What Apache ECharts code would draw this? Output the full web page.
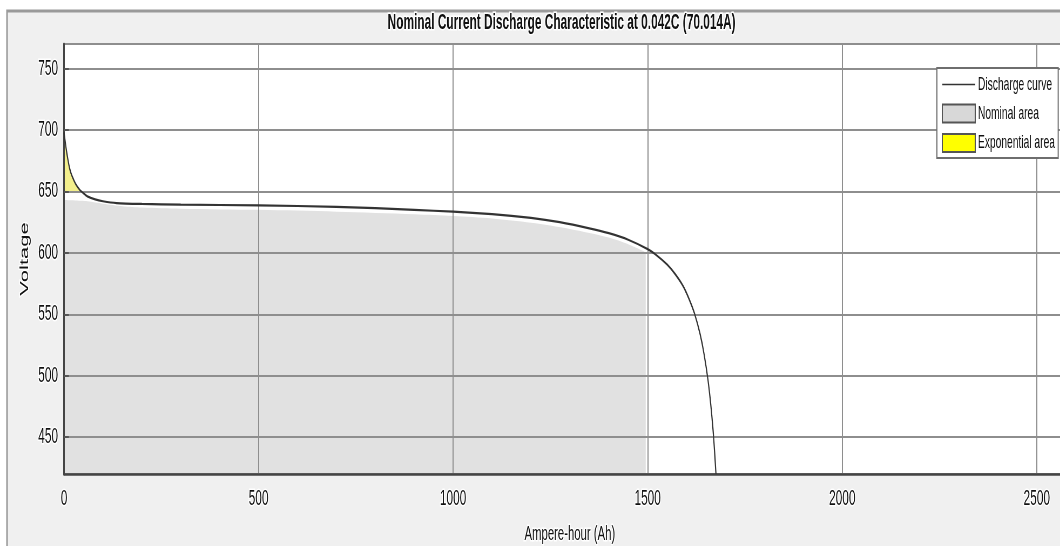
<!DOCTYPE html>
<html>
<head>
<meta charset="utf-8">
<title>Nominal Current Discharge Characteristic</title>
<script src="https://cdn.jsdelivr.net/npm/echarts@6/dist/echarts.min.js"></script>
<style>
  html, body { margin: 0; padding: 0; background: #fff; overflow: hidden; }
  #frame { width: 1060px; height: 546px; overflow: hidden; position: relative; }
  /* The figure is laid out wide and compressed horizontally, giving its tall, narrow lettering */
  #chart { width: 1963px; height: 546px; transform: scaleX(0.54); transform-origin: 0 0; }
</style>
</head>
<body>
<div id="frame"><div id="chart"></div></div>
<script>
// Discharge curve: capacity drawn (Ah) and terminal voltage (V)
const curveAh = [0, 5, 10, 15, 20, 30, 40, 50, 60, 80, 100, 135, 200, 300, 500, 700, 900, 1000, 1100, 1200, 1274, 1350, 1400, 1450, 1500, 1525, 1550, 1570, 1590, 1605, 1620, 1635, 1645, 1655, 1662, 1668, 1672, 1675.5];
const curveV  = [698, 686, 676, 668, 663, 656, 651.5, 648.5, 646, 643.5, 642, 640.5, 639.8, 639.3, 638.6, 637.5, 635, 633.5, 631.5, 628.5, 625, 620, 616, 610.7, 603, 597.5, 590.5, 583, 573.5, 563.5, 551, 533.5, 517.5, 496.5, 477, 456, 438, 420];

// Nominal operating zone (upper boundary, ends at the nominal capacity)
const nominalAh = [0, 60, 100, 150, 200, 300, 500, 700, 900, 1000, 1100, 1200, 1300, 1400, 1450, 1495];
const nominalV  = [643, 642, 640, 638, 637, 636, 635, 633.5, 631.5, 630, 628, 624.5, 619.5, 612.5, 607, 600.5];

// Exponential zone (above the 650 V line at the start of discharge)
const expAh = [0, 5, 10, 15, 20, 30, 40, 44];
const expV  = [698, 686, 676, 668, 663, 656, 651.5, 650];
const expBase = 650;

// Axis ranges
const xMin = 0, xMax = 2600, xStep = 500;
const yMin = 420, yMax = 770;

const titleText = 'Nominal Current Discharge Characteristic at 0.042C (70.014A)';
const xName = 'Ampere-hour (Ah)';
const yName = 'Voltage';

const pairs = (xs, ys) => xs.map((x, i) => [x, ys[i]]);

const sans = "'Liberation Sans', Arial, sans-serif";
const halo = { textBorderColor: '#ffffff', textBorderWidth: 3 };

const chart = echarts.init(document.getElementById('chart'), null, { renderer: 'canvas', width: 1963, height: 546 });

chart.setOption({
  backgroundColor: '#ffffff',
  animation: false,
  graphic: [{
    type: 'rect',
    z: -100,
    shape: { x: 13, y: 11, width: 2100, height: 600 },
    style: { fill: '#f0f0f0', stroke: '#9a9a9a', lineWidth: 3 }
  }],
  title: {
    text: titleText,
    left: 1035,
    textAlign: 'center',
    top: 7,
    textStyle: Object.assign({ fontFamily: sans, fontWeight: 'bold', fontSize: 22, color: '#111' }, halo)
  },
  legend: {
    orient: 'vertical',
    left: 1735,
    top: 68,
    z: 10,
    backgroundColor: '#ffffff',
    borderColor: '#6e6e6e',
    borderWidth: 2,
    padding: [7, 6, 5, 9],
    itemGap: 9.5,
    itemWidth: 61,
    itemHeight: 18,
    textStyle: { fontFamily: sans, fontSize: 19, color: '#111' },
    data: [
      { name: 'Discharge curve', icon: 'path://M0,0H110V3H0Z', itemStyle: { color: '#333' } },
      { name: 'Nominal area', icon: 'rect', itemStyle: { color: '#d8d8d8', borderColor: '#555', borderWidth: 2 } },
      { name: 'Exponential area', icon: 'rect', itemStyle: { color: '#ffff00', borderColor: '#555', borderWidth: 2 } }
    ]
  },
  grid: {
    left: 118.5, top: 44, bottom: 72, right: -29,
    outerBoundsMode: 'none',
    containLabel: false,
    show: true, backgroundColor: '#ffffff', borderColor: '#5a5a5a', borderWidth: 2
  },
  xAxis: {
    type: 'value',
    z: 3,
    min: xMin, max: xMax, interval: xStep,
    name: xName,
    nameLocation: 'middle',
    nameGap: 50,
    nameTextStyle: Object.assign({ fontFamily: sans, fontSize: 21, color: '#111' }, halo),
    axisLine: { show: true, lineStyle: { color: '#444', width: 2.5 } },
    axisTick: { show: false },
    axisLabel: Object.assign({ fontFamily: sans, fontSize: 22, color: '#111', margin: 14, showMaxLabel: false, formatter: v => String(v) }, halo),
    splitLine: { show: true, lineStyle: { color: '#8e8e8e', width: 2 } }
  },
  yAxis: {
    type: 'value',
    z: 3,
    min: yMin, max: yMax, splitNumber: 7,
    name: yName,
    nameLocation: 'middle',
    nameGap: 42,
    nameTextStyle: Object.assign({ fontFamily: sans, fontSize: 22, color: '#111' }, halo),
    axisLine: { show: true, lineStyle: { color: '#444', width: 3 } },
    axisTick: { show: true, inside: true, length: 9, lineStyle: { color: '#555', width: 2 } },
    axisLabel: Object.assign({ fontFamily: sans, fontSize: 22, color: '#111', margin: 11, showMinLabel: false, showMaxLabel: false, formatter: v => String(v) }, halo),
    splitLine: { show: true, lineStyle: { color: '#8e8e8e', width: 2 } }
  },
  series: [
    {
      name: 'Nominal area',
      type: 'line',
      data: pairs(nominalAh, nominalV),
      symbol: 'none',
      smooth: 0.3,
      lineStyle: { width: 0, color: '#e1e1e1' },
      itemStyle: { color: '#d8d8d8' },
      areaStyle: { color: '#e1e1e1', opacity: 1, origin: 'start' },
      z: 1
    },
    {
      name: 'Exponential area',
      type: 'line',
      data: pairs(expAh, expV),
      symbol: 'none',
      smooth: 0.3,
      lineStyle: { width: 0, color: '#f3ef8c' },
      itemStyle: { color: '#ffff00' },
      areaStyle: { color: '#f3ef8c', opacity: 1, origin: expBase },
      z: 1
    },
    {
      name: 'Discharge curve',
      type: 'line',
      data: pairs(curveAh, curveV),
      symbol: 'none',
      smooth: 0.25,
      lineStyle: { color: '#333', width: 2.2 },
      itemStyle: { color: '#333' },
      z: 5
    }
  ]
});
</script>
</body>
</html>
